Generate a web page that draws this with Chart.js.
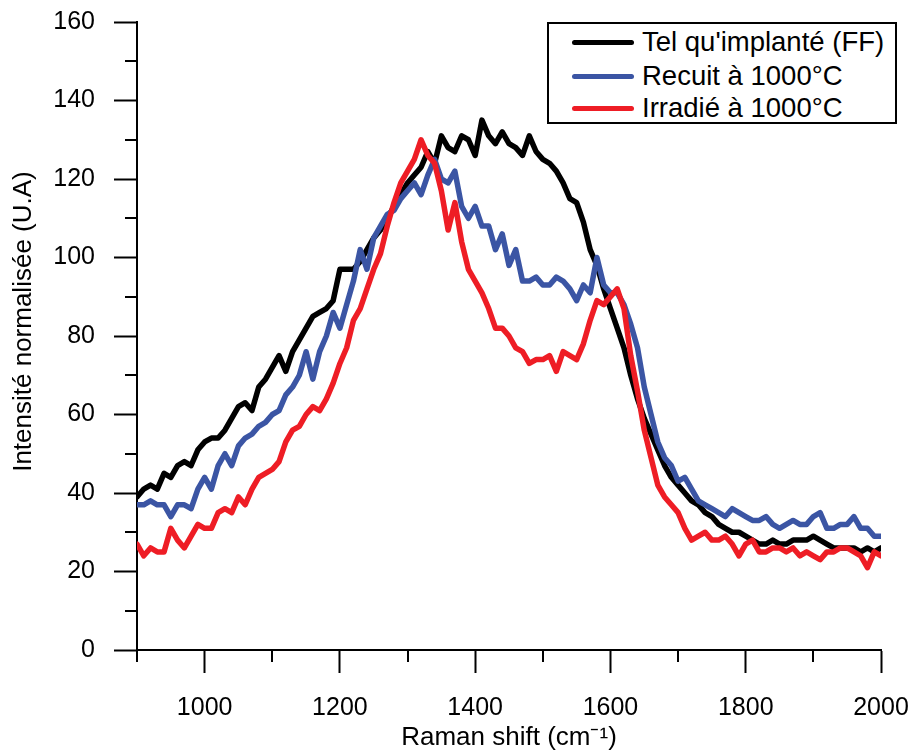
<!DOCTYPE html>
<html>
<head>
<meta charset="utf-8">
<script src="https://cdn.jsdelivr.net/npm/chart.js@4"></script>
<style>
  html, body { margin: 0; padding: 0; background: #fff; }
  #wrap { position: relative; width: 913px; height: 753px; }
  #legend {
    position: absolute; left: 547px; top: 22px; width: 346px; height: 98px;
    border: 2px solid #000; background: #fff;
    font-family: "Liberation Sans", Arial, sans-serif; font-size: 27.5px; color: #000;
  }
  .swatch { position: absolute; left: 23px; width: 62px; height: 5px; border-radius: 3px; }
  .lbl { position: absolute; left: 93px; height: 32px; line-height: 32px; white-space: nowrap; }
</style>
</head>
<body>
<div id="wrap">
  <canvas id="ramanChart" width="913" height="753"></canvas>
  <div id="legend"></div>
</div>
<script>
// Raman shift (cm-1), un point tous les 10 cm-1
const shifts = [
  900, 910, 920, 930, 940, 950, 960, 970, 980, 990,
  1000, 1010, 1020, 1030, 1040, 1050, 1060, 1070, 1080, 1090,
  1100, 1110, 1120, 1130, 1140, 1150, 1160, 1170, 1180, 1190,
  1200, 1210, 1220, 1230, 1240, 1250, 1260, 1270, 1280, 1290,
  1300, 1310, 1320, 1330, 1340, 1350, 1360, 1370, 1380, 1390,
  1400, 1410, 1420, 1430, 1440, 1450, 1460, 1470, 1480, 1490,
  1500, 1510, 1520, 1530, 1540, 1550, 1560, 1570, 1580, 1590,
  1600, 1610, 1620, 1630, 1640, 1650, 1660, 1670, 1680, 1690,
  1700, 1710, 1720, 1730, 1740, 1750, 1760, 1770, 1780, 1790,
  1800, 1810, 1820, 1830, 1840, 1850, 1860, 1870, 1880, 1890,
  1900, 1910, 1920, 1930, 1940, 1950, 1960, 1970, 1980, 1990,
  2000
];

// Tel qu'implanté (FF)
const telImplante = [
  39, 41, 42, 41, 45, 44, 47, 48, 47, 51,
  53, 54, 54, 56, 59, 62, 63, 61, 67, 69,
  72, 75, 71, 76, 79, 82, 85, 86, 87, 89,
  97, 97, 97, 99, 102, 105, 107, 110, 113, 116,
  119, 121, 123, 127, 124, 131, 128, 127, 131, 130,
  126, 135, 131, 129, 132, 129, 128, 126, 131, 127,
  125, 124, 122, 119, 115, 114, 109, 102, 98, 92,
  87, 82, 77, 70, 64, 59, 55, 51, 47, 44,
  42, 40, 38, 37, 35, 34, 32, 31, 30, 30,
  29, 28, 27, 27, 28, 27, 27, 28, 28, 28,
  29, 28, 27, 26, 26, 26, 26, 25, 26, 25,
  26
];

// Recuit à 1000°C
const recuit = [
  37, 37, 38, 37, 37, 34, 37, 37, 36, 41,
  44, 41, 47, 50, 47, 52, 54, 55, 57, 58,
  60, 61, 65, 67, 70, 76, 69, 76, 80, 86,
  82, 88, 94, 102, 97, 105, 108, 111, 112, 115,
  117, 119, 116, 121, 125, 120, 119, 122, 113, 110,
  113, 108, 108, 102, 106, 98, 102, 94, 94, 95,
  93, 93, 95, 94, 92, 89, 93, 91, 100, 93,
  91, 91, 88, 83, 77, 67, 60, 53, 49, 47,
  43, 44, 41, 38, 37, 36, 35, 34, 36, 35,
  34, 33, 33, 34, 32, 31, 32, 33, 32, 32,
  34, 35, 31, 31, 32, 32, 34, 31, 31, 29,
  29
];

// Irradié à 1000°C
const irradie = [
  27, 24, 26, 25, 25, 31, 28, 26, 29, 32,
  31, 31, 35, 36, 35, 39, 37, 41, 44, 45,
  46, 48, 53, 56, 57, 60, 62, 61, 64, 68,
  73, 77, 84, 87, 92, 97, 101, 108, 114, 119,
  122, 125, 130, 126, 124, 117, 107, 114, 104, 97,
  94, 91, 87, 82, 82, 80, 77, 76, 73, 74,
  74, 75, 71, 76, 75, 74, 78, 84, 89, 88,
  90, 92, 87, 75, 66, 56, 49, 42, 39, 37,
  35, 31, 28, 29, 30, 28, 28, 29, 27, 24,
  27, 28, 25, 25, 26, 26, 25, 26, 24, 25,
  24, 23, 25, 25, 26, 26, 25, 24, 21, 25,
  24
];

const seriesLabels = ["Tel qu'implanté (FF)", 'Recuit à 1000°C', 'Irradié à 1000°C'];
const seriesColors = ['#000000', '#3b55a4', '#ee1d25'];
const seriesValues = [telImplante, recuit, irradie];

const xTitle = 'Raman shift (cm\u207B\u00B9)';
// espaces en tête : le titre vertical est un peu décalé vers le haut dans l'original
const yTitle = '    Intensité normalisée (U.A)';

const FONT = '"Liberation Sans", Arial, sans-serif';
Chart.defaults.font.family = FONT;
Chart.defaults.color = '#000';

// Petites graduations (moitié de longueur)
const minorTicks = {
  id: 'minorTicks',
  afterDraw(chart) {
    const ctx = chart.ctx;
    const xs = chart.scales.x;
    const ys = chart.scales.y;
    ctx.save();
    ctx.strokeStyle = '#000';
    ctx.lineWidth = 2;
    ctx.beginPath();
    xs.ticks.forEach(t => {
      if (t.value % 200 !== 0) {
        const px = Math.round(xs.getPixelForValue(t.value));
        ctx.moveTo(px, ys.bottom);
        ctx.lineTo(px, ys.bottom + 12);
      }
    });
    ys.ticks.forEach(t => {
      if (t.value % 20 !== 0) {
        const py = Math.round(ys.getPixelForValue(t.value));
        ctx.moveTo(xs.left, py);
        ctx.lineTo(xs.left - 12, py);
      }
    });
    ctx.stroke();
    ctx.restore();
  }
};

const datasets = seriesValues.map((vals, i) => ({
  label: seriesLabels[i],
  data: vals.map((v, j) => ({ x: shifts[j], y: v })),
  borderColor: seriesColors[i],
  borderWidth: 5.5,
  pointRadius: 0,
  tension: 0,
  borderJoinStyle: 'round',
  borderCapStyle: 'round',
  fill: false,
  order: 3 - i
}));

const majorColor = (step) => (ctx) =>
  (ctx.tick && ctx.tick.value % step === 0) ? '#000' : 'rgba(0,0,0,0)';

new Chart(document.getElementById('ramanChart'), {
  type: 'line',
  data: { datasets },
  options: {
    responsive: false,
    animation: false,
    devicePixelRatio: 1,
    layout: { padding: { left: 0, top: 22, right: 32, bottom: 0 } },
    plugins: { legend: { display: false }, tooltip: { enabled: false } },
    scales: {
      x: {
        type: 'linear',
        min: 900,
        max: 2000,
        afterFit: (s) => { s.height = 103; s.paddingLeft = 0; s.paddingRight = 0; },
        ticks: {
          stepSize: 100,
          autoSkip: false,
          maxRotation: 0,
          padding: 20,
          font: { size: 25 },
          callback: (v) => (v % 200 === 0 ? String(v) : '')
        },
        grid: {
          drawOnChartArea: false,
          drawTicks: true,
          tickLength: 23,
          tickWidth: 2,
          tickColor: majorColor(200)
        },
        border: { display: true, color: '#000', width: 2 },
        title: { display: true, text: xTitle, font: { size: 26 }, padding: { top: 0, bottom: 0 } }
      },
      y: {
        min: 0,
        max: 160,
        afterFit: (s) => { s.width = 137; s.paddingTop = 0; s.paddingBottom = 0; },
        ticks: {
          stepSize: 10,
          autoSkip: false,
          padding: 19,
          font: { size: 25 },
          callback: (v) => (v % 20 === 0 ? String(v) : '')
        },
        grid: {
          drawOnChartArea: false,
          drawTicks: true,
          tickLength: 23,
          tickWidth: 2,
          tickColor: majorColor(20)
        },
        border: { display: true, color: '#000', width: 2 },
        title: { display: true, text: yTitle, font: { size: 26 }, padding: { top: 8, bottom: 0 } }
      }
    }
  },
  plugins: [minorTicks]
});

// Légende encadrée en haut à droite
const legend = document.getElementById('legend');
const rowCenters = [18, 52, 84];
seriesLabels.forEach((lab, i) => {
  const sw = document.createElement('div');
  sw.className = 'swatch';
  sw.style.top = (rowCenters[i] - 2.5) + 'px';
  sw.style.background = seriesColors[i];
  const tx = document.createElement('div');
  tx.className = 'lbl';
  tx.style.top = (rowCenters[i] - 16) + 'px';
  tx.textContent = lab;
  legend.appendChild(sw);
  legend.appendChild(tx);
});
</script>
</body>
</html>
